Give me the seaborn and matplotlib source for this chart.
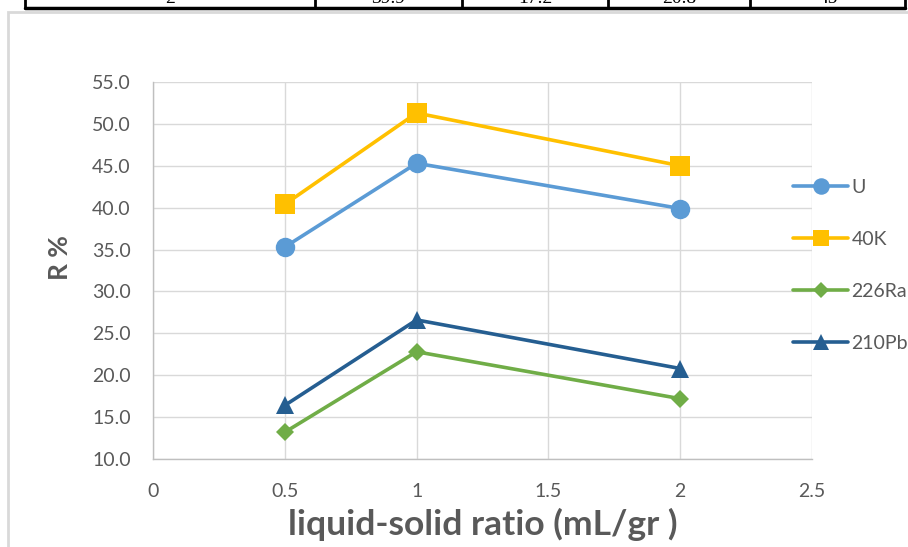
import matplotlib
matplotlib.use("Agg")
import matplotlib.pyplot as plt
from matplotlib.patches import Rectangle
from matplotlib.lines import Line2D
from matplotlib.ticker import FormatStrFormatter, MultipleLocator, FuncFormatter
import seaborn as sns
import pandas as pd

# Leaching efficiency R% versus liquid-solid ratio
ratios = [0.5, 1, 2]
nuclides = ["U", "40K", "226Ra", "210Pb"]
r_u = [35.3, 45.3, 39.9]
r_k40 = [40.4, 51.3, 45.0]
r_ra226 = [13.2, 22.8, 17.2]
r_pb210 = [16.4, 26.6, 20.8]

# Row of the table printed just above the chart
table_row = ["2", "39.9", "17.2", "20.8", "45"]

colors = {"U": "#5B9BD5", "40K": "#FFC000", "226Ra": "#70AD47", "210Pb": "#255E91"}
markers = {"U": "o", "40K": "s", "226Ra": "D", "210Pb": "^"}
msizes = {"U": 14, "40K": 14, "226Ra": 9.5, "210Pb": 13}

df = pd.DataFrame({
    "ratio": ratios * 4,
    "R": r_u + r_k40 + r_ra226 + r_pb210,
    "nuclide": [n for n in nuclides for _ in ratios],
})

sns.set_theme(style="white")
plt.rcParams["font.family"] = ["Lato", "DejaVu Sans"]

W, H = 908, 547
fig = plt.figure(figsize=(W / 100, H / 100), dpi=100)
ax = fig.add_axes([153 / W, (H - 459) / H, (812 - 153) / W, (459 - 82) / H])

sns.lineplot(data=df, x="ratio", y="R", hue="nuclide", style="nuclide",
             hue_order=nuclides, style_order=nuclides,
             palette=colors, markers=markers, dashes=False,
             linewidth=2.6, markeredgewidth=0, legend=False, ax=ax)
for line, name in zip(ax.lines, nuclides):
    line.set_markersize(msizes[name])
    line.set_zorder(3)

ax.set_xlim(0, 2.5)
ax.set_ylim(10, 55)
ax.xaxis.set_major_locator(MultipleLocator(0.5))
ax.yaxis.set_major_locator(MultipleLocator(5))
ax.yaxis.set_major_formatter(FormatStrFormatter("%.1f"))
ax.xaxis.set_major_formatter(FuncFormatter(lambda v, p: f"{v:g}"))
ax.grid(True, color="#d9d9d9", linewidth=1)
ax.set_axisbelow(True)
for side in ["top", "right"]:
    ax.spines[side].set_visible(False)
for side in ["left", "bottom"]:
    ax.spines[side].set_color("#bfbfbf")
    ax.spines[side].set_linewidth(1)
ax.tick_params(axis="both", length=0, labelsize=14, labelcolor="#595959")
ax.tick_params(axis="y", pad=16)
ax.tick_params(axis="x", pad=17)

ax.set_xlabel("liquid-solid ratio (mL/gr )", fontsize=25.5, fontweight="bold",
              color="#595959", labelpad=6)
ax.set_ylabel("R %", fontsize=19, fontweight="bold", color="#595959")
ax.yaxis.set_label_coords((72 - 153) / 659, (459 - 258) / 377)

# Legend on the right side
handles = [Line2D([0], [0], color=colors[n], marker=markers[n], lw=2.6,
                  markersize=msizes[n] * 0.85, markeredgewidth=0) for n in nuclides]
leg = fig.legend(handles, nuclides, loc="upper left",
                 bbox_to_anchor=(793 / W, (H - 179) / H),
                 frameon=False, fontsize=14, handlelength=2.85,
                 handletextpad=0.15, labelspacing=1.8, borderaxespad=0,
                 borderpad=0)
for t in leg.get_texts():
    t.set_color("#595959")

# Chart area border
fig.patches.append(Rectangle((8, -20), 950, H - 12 + 20, transform=None,
                             fill=False, edgecolor="#d9d9d9", linewidth=2))

# Table lines above the chart
ty = H - 8
fig.lines.append(Line2D([25, 905], [ty, ty], transform=None, color="black", lw=2.5))
for xv in [25, 315, 462, 608, 750, 905]:
    fig.lines.append(Line2D([xv, xv], [ty, H + 5], transform=None, color="black", lw=2))
for xc, txt in zip([170, 388, 535, 679, 828], table_row):
    fig.text(xc / W, (H - 3) / H, txt, ha="center", va="baseline", fontsize=14,
             family=["Liberation Serif"], color="black")

fig.savefig("out.png", dpi=100)
